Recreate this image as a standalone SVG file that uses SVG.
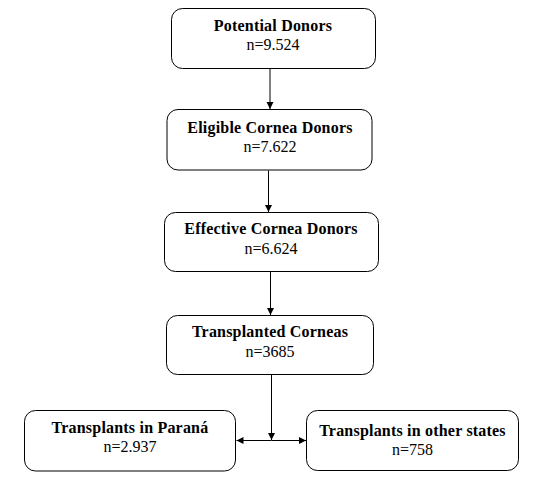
<svg xmlns="http://www.w3.org/2000/svg" width="542" height="482" viewBox="0 0 542 482">
<style>
.box{fill:#fff;stroke:#000;stroke-width:1}
.t{font-family:"Liberation Serif","Times New Roman",serif;font-size:16px;fill:#000;text-anchor:middle}
.b{font-weight:bold;letter-spacing:0.2px}
.c{stroke:#000;stroke-width:1;fill:none}
</style>
<defs>
<marker id="ah" markerWidth="8" markerHeight="8" refX="7" refY="4" orient="auto" markerUnits="userSpaceOnUse">
<path d="M0,0.5 L7,4 L0,7.5 Z" fill="#000"/>
</marker>
</defs>
<rect width="542" height="482" fill="#fff"/>
<g id="connectors">
<line class="c" x1="270" y1="68.5" x2="270" y2="109" marker-end="url(#ah)"/>
<line class="c" x1="268.5" y1="170.5" x2="268.5" y2="212" marker-end="url(#ah)"/>
<line class="c" x1="270.5" y1="271.5" x2="270.5" y2="315" marker-end="url(#ah)"/>
<line class="c" x1="271.5" y1="374.5" x2="271.5" y2="440" marker-end="url(#ah)"/>
<line class="c" x1="271.5" y1="440.5" x2="236.5" y2="440.5" marker-end="url(#ah)"/>
<line class="c" x1="271.5" y1="440.5" x2="306" y2="440.5" marker-end="url(#ah)"/>
</g>
<g id="potential">
<rect class="box" x="171.5" y="8.5" width="204" height="60" rx="11"/>
<text class="t b" x="273" y="31">Potential Donors</text>
<text class="t" x="273" y="50">n=9.524</text>
</g>
<g id="eligible">
<rect class="box" x="167" y="109.5" width="205" height="60.5" rx="11"/>
<text class="t b" x="270" y="133">Eligible Cornea Donors</text>
<text class="t" x="270" y="152">n=7.622</text>
</g>
<g id="effective">
<rect class="box" x="164.5" y="212.5" width="214" height="59" rx="11"/>
<text class="t b" x="271" y="234">Effective Cornea Donors</text>
<text class="t" x="271" y="254">n=6.624</text>
</g>
<g id="transplanted">
<rect class="box" x="166.5" y="315.5" width="207" height="59" rx="11"/>
<text class="t b" x="270" y="337">Transplanted Corneas</text>
<text class="t" x="270" y="357">n=3685</text>
</g>
<g id="parana">
<rect class="box" x="24.5" y="410.5" width="211" height="60.5" rx="11"/>
<text class="t b" x="130" y="432.5">Transplants in Paraná</text>
<text class="t" x="130" y="452">n=2.937</text>
</g>
<g id="other">
<rect class="box" x="306.5" y="410.5" width="212" height="60" rx="11"/>
<text class="t b" x="412.5" y="436">Transplants in other states</text>
<text class="t" x="412.5" y="455">n=758</text>
</g>
</svg>
